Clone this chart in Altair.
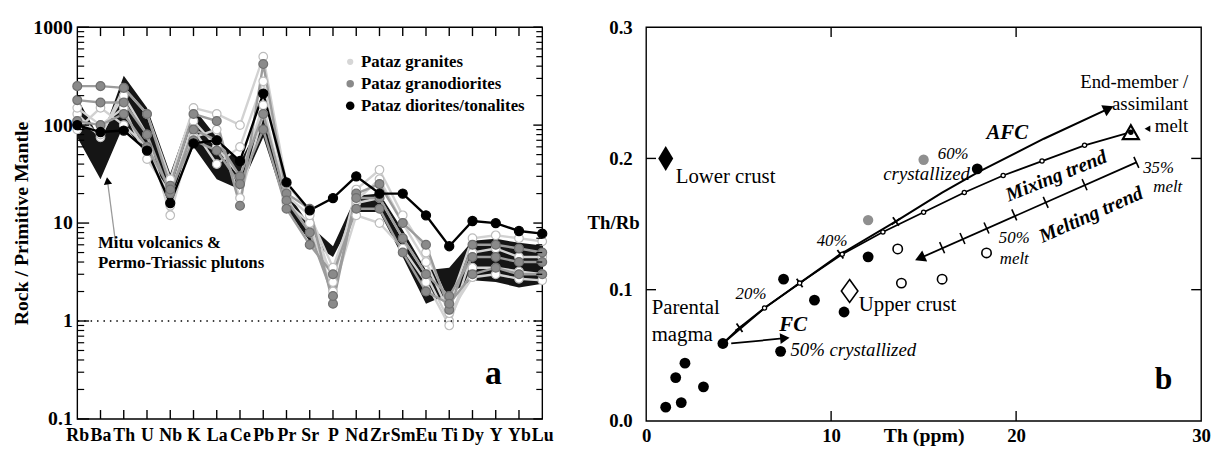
import altair as alt
import pandas as pd

FONT = "Liberation Serif"

# ---------------- Panel a : spider diagram ----------------
elements = ["Rb", "Ba", "Th", "U", "Nb", "K", "La", "Ce", "Pb", "Pr", "Sr",
            "P", "Nd", "Zr", "Sm", "Eu", "Ti", "Dy", "Y", "Yb", "Lu"]
mitu_low = [75, 28, 100, 50, 18, 60, 28, 22, 75, 14, 6.5, 4.5, 13, 13, 4.5, 1.5, 1.9, 2.6, 2.5, 2.2, 2.4]
mitu_high = [190, 70, 320, 150, 32, 150, 75, 42, 120, 21, 9.5, 5.8, 19, 20, 8.5, 3.3, 3.5, 6.6, 6.9, 6.3, 5.9]

granite_1 = [130, 75, 240, 130, 28, 150, 130, 100, 500, 25, 13, 2.5, 22, 35, 12, 5, 1.5, 7, 7.5, 7, 6.5]
granite_2 = [110, 80, 200, 80, 12, 90, 40, 60, 280, 18, 8, 3, 16, 18, 7, 3, 1.0, 3.5, 3.5, 3.2, 3]
granite_3 = [150, 100, 150, 45, 20, 110, 60, 30, 160, 16, 10, 2, 12, 10, 5.5, 2.5, 0.9, 5, 5.5, 4.5, 4.5]
granite_4 = [90, 150, 100, 60, 15, 75, 90, 18, 130, 19, 12, 3.5, 17, 28, 10, 4, 1.2, 2.8, 3, 2.7, 2.6]
granodiorite_1 = [250, 250, 240, 130, 24, 130, 110, 15, 420, 20, 14, 1.5, 20, 25, 10, 6, 1.3, 6, 6, 5.5, 5]
granodiorite_2 = [180, 170, 170, 80, 20, 90, 70, 30, 130, 17, 8, 1.8, 18, 18, 7, 3, 1.8, 4.5, 4.5, 4, 4]
granodiorite_3 = [110, 100, 130, 60, 22, 70, 55, 25, 90, 14, 6, 3, 14, 14, 5, 2, 1.5, 3, 3.5, 3, 3]
diorite_1 = [100, 85, 88, 55, 16, 65, 70, 43, 210, 26, 13.5, 18, 30, 20, 20, 12, 5.8, 10.5, 10, 8.3, 7.8]

groups = ["Pataz granites", "Pataz granodiorites", "Pataz diorites/tonalites"]
legend_symbol_x = [11.74, 11.74, 11.74]
legend_text_x = [12.2, 12.2, 12.2]
legend_y = [443, 265, 158]

mitu_label_lines = ["Mitu volcanics &", "Permo-Triassic plutons"]
mitu_label_x = [0.89, 0.89]
mitu_label_y = [6.2, 3.9]
mitu_arrow_x = [1.66, 1.3]
mitu_arrow_y = [6.0, 27.0]
panel_a_letter = ["a"]
panel_a_letter_x = [17.9]
panel_a_letter_y = [0.29]

a_major = [0.1, 1, 10, 100, 1000]
a_minor = [m * d for d in [0.1, 1, 10, 100] for m in [2, 3, 4, 5, 6, 7, 8, 9]]

# ---------------- Panel b : Th/Rb vs Th ----------------
b_black_th = [1.06, 1.9, 1.6, 2.1, 3.1, 4.15, 7.27, 7.43, 9.1, 10.7, 12.0, 17.9]
b_black_r = [0.0105, 0.014, 0.033, 0.044, 0.026, 0.059, 0.053, 0.108, 0.092, 0.083, 0.125, 0.192]
b_grey_th = [15.0, 12.0]
b_grey_r = [0.199, 0.153]
b_open_th = [13.6, 18.4, 13.8, 16.0]
b_open_r = [0.131, 0.128, 0.105, 0.108]

afc_th = [4.15, 5.05, 6.4, 8.3, 10.5, 13.5, 16.0, 18.0, 21.5, 25.0]
afc_r = [0.059, 0.071, 0.086, 0.105, 0.127, 0.152, 0.174, 0.19, 0.215, 0.238]
afc_tick_th = [5.05, 8.3, 10.5, 13.5]
afc_tick_r = [0.071, 0.105, 0.127, 0.152]

mix_th = [4.15, 6.4, 8.3, 10.6, 12.8, 15.0, 17.2, 19.3, 21.4, 23.7, 26.2]
mix_r = [0.059, 0.086, 0.105, 0.127, 0.144, 0.159, 0.174, 0.187, 0.198, 0.21, 0.22]

melt_th = [26.5, 14.8]
melt_r = [0.197, 0.124]
melt_tick_th = [26.5, 23.7, 21.6, 19.9, 18.4, 17.1, 16.0]
melt_tick_r = [0.197, 0.18, 0.1665, 0.157, 0.147, 0.139, 0.132]

fc_th = [4.6, 7.5]
fc_r = [0.059, 0.063]

lower_crust_th, lower_crust_r = [1.06], [0.2]
upper_crust_th, upper_crust_r = [11.0], [0.099]
endmember_th, endmember_r = [26.2], [0.22]
endmember_pointer_th, endmember_pointer_r = [27.1], [0.2226]

lbl_left = ["Lower crust", "Upper crust", "Parental", "magma"]
lbl_left_x = [1.6, 11.5, 0.3, 0.3]
lbl_left_y = [0.186, 0.088, 0.0857, 0.0654]
lbl_right = ["End-member /", "assimilant", "melt"]
lbl_right_x = [29.3, 29.3, 29.3]
lbl_right_y = [0.2585, 0.2415, 0.2245]
ital_center = ["20%", "40%", "60%", "35%", "melt", "50%", "melt"]
ital_center_x = [5.67, 10.05, 16.6, 27.7, 28.2, 19.9, 19.9]
ital_center_y = [0.097, 0.137, 0.203, 0.193, 0.178, 0.139, 0.123]
ital_left = ["50% crystallized"]
ital_left_x, ital_left_y = [7.8], [0.054]
ital_right = ["crystallized"]
ital_right_x, ital_right_y = [17.5], [0.188]
bi_labels = ["FC", "AFC"]
bi_x = [7.2, 18.4]
bi_y = [0.073, 0.2195]
mixing_label, mixing_x, mixing_y = ["Mixing trend"], [22.17], [0.1865]
melting_label, melting_x, melting_y = ["Melting trend"], [24.05], [0.157]
panel_b_letter, panel_b_letter_x, panel_b_letter_y = ["b"], [27.97], [0.0316]

# ---------------- sizes ----------------
W_A, H_A = 470, 396
W_B, H_B = 561, 398

# ================= Panel a =================
xs_a = alt.Scale(domain=[0, 20], nice=False, zero=False)
ys_a = alt.Scale(type="log", domain=[0.1, 1000], nice=False)
label_expr = "[" + ",".join("'%s'" % e for e in elements) + "][datum.value]"

x_axis_a = alt.Axis(values=list(range(len(elements))), labelExpr=label_expr, labelFontSize=18,
                    labelPadding=8, labelOverlap=False, labelFlush=False, labelBound=False, title=None)
y_axis_a = alt.Axis(values=a_major, format="~g", labelFontSize=20, labelPadding=5,
                    title="Rock / Primitive Mantle", titleFontSize=20, titlePadding=1)

band_df = pd.DataFrame({"idx": list(range(len(elements))), "lo": mitu_low, "hi": mitu_high})
band = alt.Chart(band_df).mark_area(color="#151515", opacity=1).encode(
    x=alt.X("idx:Q", scale=xs_a, axis=x_axis_a),
    y=alt.Y("lo:Q", scale=ys_a, axis=y_axis_a),
    y2="hi:Q",
)

samples = [("G1", groups[0], granite_1), ("G2", groups[0], granite_2), ("G3", groups[0], granite_3),
           ("G4", groups[0], granite_4), ("D1", groups[1], granodiorite_1), ("D2", groups[1], granodiorite_2),
           ("D3", groups[1], granodiorite_3), ("T1", groups[2], diorite_1)]
rows = [{"sample": n, "group": g, "idx": i, "value": v} for n, g, vals in samples for i, v in enumerate(vals)]
sdf = pd.DataFrame(rows)

line_colors = ["#d2d2d2", "#9c9c9c", "#000000"]
fill_colors = ["#ffffff", "#8a8a8a", "#000000"]
stroke_colors = ["#bcbcbc", "#707070", "#000000"]

lines = alt.Chart(sdf).mark_line().encode(
    x=alt.X("idx:Q", axis=x_axis_a), y="value:Q", detail="sample:N", order="idx:Q",
    color=alt.Color("group:O", scale=alt.Scale(domain=groups, range=line_colors), legend=None),
    strokeWidth=alt.StrokeWidth("group:O", scale=alt.Scale(domain=groups, range=[2.4, 2.4, 1.2]), legend=None),
)

pts = alt.Chart(sdf).mark_point(shape="circle", filled=True, strokeWidth=1.2, opacity=1).encode(
    x=alt.X("idx:Q", axis=x_axis_a), y="value:Q",
    fill=alt.Fill("group:O", scale=alt.Scale(domain=groups, range=fill_colors), legend=None),
    stroke=alt.Stroke("group:O", scale=alt.Scale(domain=groups, range=stroke_colors), legend=None),
    size=alt.Size("group:O", scale=alt.Scale(domain=groups, range=[75, 85, 14]), legend=None),
)

leg_df = pd.DataFrame({"group": groups, "sx": legend_symbol_x, "tx": legend_text_x, "y": legend_y})
leg_pts = alt.Chart(leg_df).mark_point(shape="circle", filled=True, opacity=1, strokeWidth=0).encode(
    x=alt.X("sx:Q", axis=x_axis_a), y="y:Q",
    fill=alt.Fill("group:O", scale=alt.Scale(domain=groups, range=["#d6d6d6", "#8a8a8a", "#000000"]), legend=None),
    size=alt.Size("group:O", scale=alt.Scale(domain=groups, range=[40, 75, 20]), legend=None),
)
leg_txt = alt.Chart(leg_df).mark_text(font=FONT, fontWeight="bold", fontSize=17, align="left",
                                      baseline="middle", color="black").encode(
    x=alt.X("tx:Q", axis=x_axis_a), y="y:Q", text="group:N")

dotted = alt.Chart(pd.DataFrame({"v": [1]})).mark_rule(strokeDash=[1.5, 5], strokeWidth=1.5, color="black").encode(y="v:Q")

arr_df = pd.DataFrame({"x": mitu_arrow_x, "y": mitu_arrow_y, "o": [0, 1]})
arrow_line = alt.Chart(arr_df).mark_line(color="#9a9a9a", strokeWidth=1.3).encode(
    x=alt.X("x:Q", axis=x_axis_a), y="y:Q", order="o:Q")
arrow_head = alt.Chart(arr_df.iloc[[1]]).mark_point(shape="triangle-up", filled=True, color="black",
                                                    size=70, angle=352, opacity=1).encode(
    x=alt.X("x:Q", axis=x_axis_a), y="y:Q")

mitu_text = alt.Chart(pd.DataFrame({"x": mitu_label_x, "y": mitu_label_y, "t": mitu_label_lines})).mark_text(
    font=FONT, fontWeight="bold", fontSize=17, align="left", baseline="middle", color="black"
).encode(x=alt.X("x:Q", axis=x_axis_a), y="y:Q", text="t:N")
a_text = alt.Chart(pd.DataFrame({"x": panel_a_letter_x, "y": panel_a_letter_y, "t": panel_a_letter})).mark_text(
    font=FONT, fontWeight="bold", fontSize=34, align="center", baseline="middle", color="black"
).encode(x=alt.X("x:Q", axis=x_axis_a), y="y:Q", text="t:N")

maj_df = pd.DataFrame({"v": a_major})
min_df = pd.DataFrame({"v": a_minor})
el_df = pd.DataFrame({"i": list(range(1, len(elements) - 1))})
tl_maj = alt.Chart(maj_df).mark_rule(color="black", strokeWidth=1.4).encode(y="v:Q", x=alt.value(0), x2=alt.value(12))
tl_min = alt.Chart(min_df).mark_rule(color="black", strokeWidth=1.2).encode(y="v:Q", x=alt.value(0), x2=alt.value(7))
tr_maj = alt.Chart(maj_df).mark_rule(color="black", strokeWidth=1.4).encode(y="v:Q", x=alt.value(W_A - 9), x2=alt.value(W_A))
tr_min = alt.Chart(min_df).mark_rule(color="black", strokeWidth=1.2).encode(y="v:Q", x=alt.value(W_A - 6), x2=alt.value(W_A))
tb = alt.Chart(el_df).mark_rule(color="black", strokeWidth=1.4).encode(
    x=alt.X("i:Q", axis=x_axis_a), y=alt.value(H_A - 9), y2=alt.value(H_A))
tt = alt.Chart(el_df).mark_rule(color="black", strokeWidth=1.4).encode(
    x=alt.X("i:Q", axis=x_axis_a), y=alt.value(0), y2=alt.value(9))

panel_a = alt.layer(band, lines, pts, dotted, arrow_line, arrow_head, mitu_text, a_text, leg_pts, leg_txt,
                    tl_maj, tl_min, tr_maj, tr_min, tb, tt).resolve_scale(
    fill="independent", size="independent").properties(width=W_A, height=H_A)

# ================= Panel b =================
xs_b = alt.Scale(domain=[0, 30], nice=False, zero=False)
ys_b = alt.Scale(domain=[0, 0.3], nice=False, zero=False)
x_axis_b = alt.Axis(values=[0, 10, 20, 30], format="d", labelFontSize=19, labelPadding=6, labelFlush=False,
                    title="Th (ppm)", titleFontSize=20, titleBaseline="top", titleY=5)
y_axis_b = alt.Axis(values=[0, 0.1, 0.2, 0.3], format=".1f", labelFontSize=19, labelPadding=14,
                    title="Th/Rb", titleFontSize=19, titleAngle=0, titleAlign="right",
                    titleBaseline="middle", titleX=-7, titleY=197)


def xy(th, r):
    return pd.DataFrame({"x": th, "y": r, "o": list(range(len(th)))})


black_pts = alt.Chart(xy(b_black_th, b_black_r)).mark_point(shape="circle", filled=True, color="black",
                                                           size=120, opacity=1).encode(
    x=alt.X("x:Q", scale=xs_b, axis=x_axis_b), y=alt.Y("y:Q", scale=ys_b, axis=y_axis_b))
grey_pts = alt.Chart(xy(b_grey_th, b_grey_r)).mark_point(shape="circle", filled=True, color="#8f8f8f",
                                                        size=110, opacity=1).encode(x="x:Q", y="y:Q")
open_pts = alt.Chart(xy(b_open_th, b_open_r)).mark_point(shape="circle", filled=True, fill="white", stroke="black",
                                                        strokeWidth=1.6, size=90, opacity=1).encode(x="x:Q", y="y:Q")

afc_line = alt.Chart(xy(afc_th, afc_r)).mark_line(color="black", strokeWidth=2).encode(x="x:Q", y="y:Q", order="o:Q")
afc_head = alt.Chart(xy(afc_th[-1:], afc_r[-1:])).mark_point(shape="triangle-right", filled=True, color="black",
                                                           size=150, angle=335, opacity=1).encode(x="x:Q", y="y:Q")
afc_ticks = alt.Chart(xy(afc_tick_th, afc_tick_r)).mark_point(shape="M-1,0L1,0M0,-1L0,1", filled=False, color="black",
                                                             strokeWidth=1.8, size=110, angle=325, opacity=1).encode(x="x:Q", y="y:Q")
mix_line = alt.Chart(xy(mix_th, mix_r)).mark_line(color="black", strokeWidth=1.8).encode(x="x:Q", y="y:Q", order="o:Q")
mix_pts = alt.Chart(xy(mix_th[1:-1], mix_r[1:-1])).mark_point(shape="circle", filled=True, fill="white", stroke="black",
                                                              strokeWidth=1.3, size=18, opacity=1).encode(x="x:Q", y="y:Q")
melt_line = alt.Chart(xy(melt_th, melt_r)).mark_line(color="black", strokeWidth=1.8).encode(x="x:Q", y="y:Q", order="o:Q")
melt_head = alt.Chart(xy(melt_th[-1:], melt_r[-1:])).mark_point(shape="triangle-left", filled=True, color="black",
                                                              size=150, angle=336, opacity=1).encode(x="x:Q", y="y:Q")
melt_ticks = alt.Chart(xy(melt_tick_th, melt_tick_r)).mark_point(shape="M0,-1L0,1", filled=False, color="black",
                                                                strokeWidth=1.6, size=150, angle=336, opacity=1).encode(x="x:Q", y="y:Q")
fc_line = alt.Chart(xy(fc_th, fc_r)).mark_line(color="black", strokeWidth=1.8).encode(x="x:Q", y="y:Q", order="o:Q")
fc_head = alt.Chart(xy(fc_th[-1:], fc_r[-1:])).mark_point(shape="triangle-right", filled=True, color="black",
                                                        size=120, angle=355, opacity=1).encode(x="x:Q", y="y:Q")

lower_d = alt.Chart(xy(lower_crust_th, lower_crust_r)).mark_point(shape="M0,-1L0.6,0L0,1L-0.6,0Z", filled=True,
                                                                 color="black", size=640, opacity=1).encode(x="x:Q", y="y:Q")
upper_d = alt.Chart(xy(upper_crust_th, upper_crust_r)).mark_point(shape="M0,-1L0.72,0L0,1L-0.72,0Z", filled=True,
                                                                 fill="white", stroke="black", strokeWidth=1.6,
                                                                 size=540, opacity=1).encode(x="x:Q", y="y:Q")
end_tri = alt.Chart(xy(endmember_th, endmember_r)).mark_point(shape="triangle-up", filled=True, fill="white",
                                                             stroke="black", strokeWidth=2.2, size=260, opacity=1).encode(x="x:Q", y="y:Q")
end_dot = alt.Chart(xy(endmember_th, endmember_r)).mark_point(shape="circle", filled=True, color="black",
                                                             size=30, opacity=1).encode(x="x:Q", y="y:Q")
end_ptr = alt.Chart(xy(endmember_pointer_th, endmember_pointer_r)).mark_point(shape="triangle-left", filled=True,
                                                                             color="black", size=45, opacity=1).encode(x="x:Q", y="y:Q")


def texts(labels, xs, ys, **kw):
    df = pd.DataFrame({"x": xs, "y": ys, "t": labels})
    return alt.Chart(df).mark_text(font=FONT, color="black", baseline="middle", **kw).encode(x="x:Q", y="y:Q", text="t:N")


t_left = texts(lbl_left, lbl_left_x, lbl_left_y, align="left", fontSize=21)
t_right = texts(lbl_right, lbl_right_x, lbl_right_y, align="right", fontSize=19)
t_ic = texts(ital_center, ital_center_x, ital_center_y, align="center", fontSize=17, fontStyle="italic")
t_il = texts(ital_left, ital_left_x, ital_left_y, align="left", fontSize=19, fontStyle="italic")
t_ir = texts(ital_right, ital_right_x, ital_right_y, align="right", fontSize=19, fontStyle="italic")
t_bi = texts(bi_labels, bi_x, bi_y, align="left", fontSize=21, fontStyle="italic", fontWeight="bold")
t_mix = texts(mixing_label, mixing_x, mixing_y, align="center", fontSize=20, fontStyle="italic",
              fontWeight="bold", angle=338)
t_melt = texts(melting_label, melting_x, melting_y, align="center", fontSize=20, fontStyle="italic",
               fontWeight="bold", angle=336)
t_b = texts(panel_b_letter, panel_b_letter_x, panel_b_letter_y, align="center", fontSize=32, fontWeight="bold")

bx_df = pd.DataFrame({"v": [10, 20]})
by_df = pd.DataFrame({"v": [0.1, 0.2]})
b_tb = alt.Chart(bx_df).mark_rule(color="black", strokeWidth=1.4).encode(x="v:Q", y=alt.value(H_B - 10), y2=alt.value(H_B))
b_tt = alt.Chart(bx_df).mark_rule(color="black", strokeWidth=1.4).encode(x="v:Q", y=alt.value(0), y2=alt.value(10))
b_tl = alt.Chart(by_df).mark_rule(color="black", strokeWidth=1.4).encode(y="v:Q", x=alt.value(0), x2=alt.value(10))
b_tr = alt.Chart(by_df).mark_rule(color="black", strokeWidth=1.4).encode(y="v:Q", x=alt.value(W_B - 10), x2=alt.value(W_B))

panel_b = alt.layer(black_pts, afc_line, mix_line, melt_line, fc_line, afc_ticks, melt_ticks, mix_pts,
                    afc_head, melt_head, fc_head, grey_pts, open_pts, lower_d, upper_d, end_tri, end_dot, end_ptr,
                    t_left, t_right, t_ic, t_il, t_ir, t_bi, t_mix, t_melt, t_b,
                    b_tb, b_tt, b_tl, b_tr).properties(width=W_B, height=H_B)

chart = alt.hconcat(panel_a, panel_b, spacing=32).properties(
    padding={"left": 3, "top": 6, "right": 0, "bottom": 0}, background="white"
).configure_view(
    stroke="black", strokeWidth=1.4
).configure_axis(
    domain=False, ticks=False, grid=False, labelOverlap=False, labelFont=FONT, labelFontWeight="bold",
    labelColor="black", titleFont=FONT, titleFontWeight="bold", titleColor="black"
)

chart.save("out.html", embed_options={"renderer": "svg", "actions": False})
